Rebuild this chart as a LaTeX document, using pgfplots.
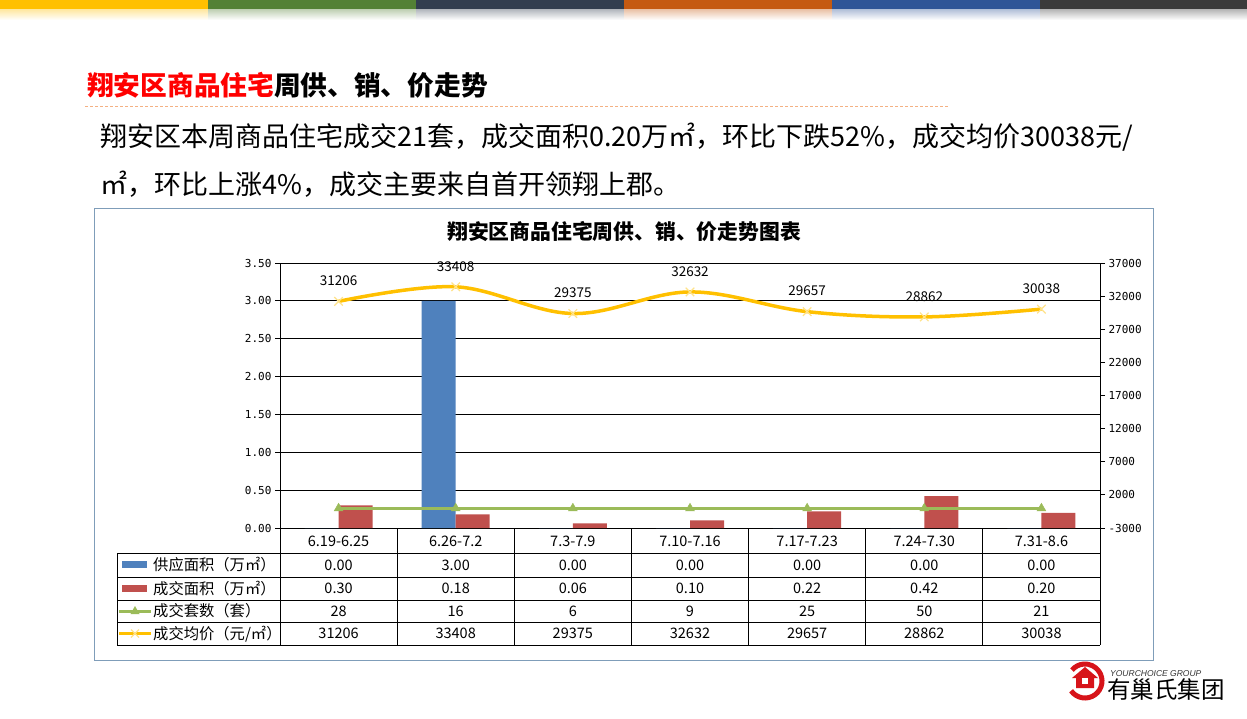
\documentclass[border=0pt]{standalone}
\usepackage{pgfplots}
\pgfplotsset{compat=1.18}
\usepackage{fontspec}
\setmainfont{Noto Sans CJK SC}
\newfontfamily\tickfont{DejaVu Sans Mono}
\newfontfamily\latinit{Liberation Sans}

\definecolor{bandA}{HTML}{FFC000}
\definecolor{bandB}{HTML}{538135}
\definecolor{bandC}{HTML}{323E4F}
\definecolor{bandD}{HTML}{C55A11}
\definecolor{bandE}{HTML}{2F5597}
\definecolor{bandF}{HTML}{3B3B3B}
\definecolor{dashC}{HTML}{F4B183}
\definecolor{boxC}{HTML}{7F9DB9}
\definecolor{supplyC}{HTML}{4F81BD}
\definecolor{dealC}{HTML}{C0504D}
\definecolor{unitsC}{HTML}{9BBB59}
\definecolor{priceC}{HTML}{FFC000}
\definecolor{priceM}{HTML}{FFE38A}
\definecolor{logoC}{HTML}{D7141A}

\begin{document}
\begin{tikzpicture}
\useasboundingbox (0,0) rectangle (1247pt,718pt);
\fill[white] (0,0) rectangle (1247pt,718pt);

\begin{scope}[x=1pt,y=1pt]
% top colour strip
\foreach \c [count=\i from 0] in {bandA,bandB,bandC,bandD,bandE,bandF} {
  \fill[\c] (\i*208,708) rectangle (\i*208+208,718);
  \shade[top color=\c!35, bottom color=white] (\i*208,698) rectangle (\i*208+208,708);
}

% heading
\node[anchor=base west, inner sep=0] at (87,622)
  {\fontsize{26.7}{30}\selectfont\bfseries\textcolor{red}{翔安区商品住宅}周供、销、价走势};
\draw[dashC, line width=0.8pt, dash pattern=on 3pt off 2pt] (85,612) -- (948,612);

% paragraph
\node[anchor=base west, inner sep=0] at (100,571)
  {\fontsize{27}{30}\selectfont 翔安区本周商品住宅成交21套，成交面积0.20万㎡，环比下跌52\%，成交均价30038元/};
\node[anchor=base west, inner sep=0] at (100,523)
  {\fontsize{27}{30}\selectfont ㎡，环比上涨4\%，成交主要来自首开领翔上郡。};

% chart frame and title
\draw[boxC, line width=1pt] (94,509) rectangle (1153,58);
\node[anchor=base, inner sep=0] at (624,478)
  {\fontsize{20.8}{24}\selectfont\bfseries 翔安区商品住宅周供、销、价走势图表};
\end{scope}

% left axis: areas
\begin{axis}[
  at={(280pt,190pt)}, anchor=south west,
  scale only axis, width=820pt, height=265pt,
  xmin=-0.5, xmax=6.5, ymin=0, ymax=3.5,
  xtick=\empty,
  ytick={0,0.5,1,1.5,2,2.5,3,3.5},
  axis x line*=bottom, axis y line*=left,
  axis line style={-, black, line width=0.8pt},
  ymajorgrids, grid style={black, line width=0.8pt},
  tick align=outside, major tick length=5pt,
  tick style={black, line width=0.8pt},
  /pgf/number format/assume math mode=true,
  yticklabel style={font=\tickfont\fontsize{11}{12}\selectfont,
    /pgf/number format/fixed, /pgf/number format/fixed zerofill,
    /pgf/number format/precision=2},
  clip=false,
]
% 供应面积（万㎡）
\addplot[ybar, bar width=34pt, bar shift=-17pt, fill=supplyC, draw=none]
  coordinates {(0,0) (1,3.00) (2,0) (3,0) (4,0) (5,0) (6,0)};
% 成交面积（万㎡）
\addplot[ybar, bar width=34pt, bar shift=17pt, fill=dealC, draw=none]
  coordinates {(0,0.30) (1,0.18) (2,0.06) (3,0.10) (4,0.22) (5,0.42) (6,0.20)};
% 成交套数（套） as drawn on the chart
\addplot[unitsC, line width=3.5pt, mark=triangle*, mark size=5pt,
  mark options={fill=unitsC, draw=unitsC, line width=0.5pt}]
  coordinates {(0,0.26) (1,0.26) (2,0.26) (3,0.26) (4,0.26) (5,0.26) (6,0.26)};
\end{axis}

% right axis: price
\begin{axis}[
  at={(280pt,190pt)}, anchor=south west,
  scale only axis, width=820pt, height=265pt,
  xmin=-0.5, xmax=6.5, ymin=-3000, ymax=37000,
  xtick=\empty,
  ytick={-3000,2000,7000,12000,17000,22000,27000,32000,37000},
  scaled y ticks=false,
  axis x line=none, axis y line*=right,
  axis line style={-, black, line width=0.8pt},
  tick align=outside, major tick length=5pt,
  tick style={black, line width=0.8pt},
  /pgf/number format/assume math mode=true,
  yticklabel style={font=\tickfont\fontsize{11}{12}\selectfont,
    /pgf/number format/fixed, /pgf/number format/1000 sep={}},
  clip=false,
]
% 成交均价（元/㎡）
\addplot[priceC, line width=3.5pt, smooth, tension=0.6,
  mark=x, mark size=6pt, mark options={draw=priceM, line width=1.2pt},
  point meta=explicit symbolic, nodes near coords,
  every node near coord/.style={black, anchor=south, inner sep=0pt, yshift=15pt,
    font=\fontsize{13.5}{15}\selectfont}]
  coordinates {(0,31206)[31206] (1,33408)[33408] (2,29375)[29375] (3,32632)[32632]
               (4,29657)[29657] (5,28862)[28862] (6,30038)[30038]};
\end{axis}

\begin{scope}[x=1pt,y=1pt]
% data table grid
\def\cw{117.142857}
\draw[black, line width=0.8pt] (117,165) -- (1100,165);
\foreach \yy in {141,118,96,73} \draw[black, line width=0.8pt] (117,\yy) -- (1100,\yy);
\draw[black, line width=0.8pt] (117,165) -- (117,73);
\foreach \k in {0,...,7} \draw[black, line width=0.8pt] (280+\k*\cw,190) -- (280+\k*\cw,73);

% categories
\foreach \t [count=\k from 0] in {6.19-6.25,6.26-7.2,7.3-7.9,7.10-7.16,7.17-7.23,7.24-7.30,7.31-8.6}
  \node[anchor=base, inner sep=0, font=\fontsize{14.5}{16}\selectfont] at (280+\k*\cw+0.5*\cw,172) {\t};

% table values
\foreach \t [count=\k from 0] in {0.00,3.00,0.00,0.00,0.00,0.00,0.00}
  \node[anchor=base, inner sep=0, font=\fontsize{14.5}{16}\selectfont] at (280+\k*\cw+0.5*\cw,148) {\t};
\foreach \t [count=\k from 0] in {0.30,0.18,0.06,0.10,0.22,0.42,0.20}
  \node[anchor=base, inner sep=0, font=\fontsize{14.5}{16}\selectfont] at (280+\k*\cw+0.5*\cw,124.5) {\t};
\foreach \t [count=\k from 0] in {28,16,6,9,25,50,21}
  \node[anchor=base, inner sep=0, font=\fontsize{14.5}{16}\selectfont] at (280+\k*\cw+0.5*\cw,102) {\t};
\foreach \t [count=\k from 0] in {31206,33408,29375,32632,29657,28862,30038}
  \node[anchor=base, inner sep=0, font=\fontsize{14.5}{16}\selectfont] at (280+\k*\cw+0.5*\cw,79.5) {\t};

% legend keys and row labels
\fill[supplyC] (122,150) rectangle (147,157);
\fill[dealC] (122,126.5) rectangle (147,133.5);
\draw[unitsC, line width=3pt] (119,107) -- (151,107);
\fill[unitsC] (135,112) -- (130.5,104) -- (139.5,104) -- cycle;
\draw[priceC, line width=3pt] (119,84.5) -- (151,84.5);
\draw[priceM, line width=1.2pt] (131,80.5) -- (139,88.5) (131,88.5) -- (139,80.5);
\node[anchor=base west, inner sep=0, font=\fontsize{15.3}{17}\selectfont] at (153,147.5) {供应面积（万㎡）};
\node[anchor=base west, inner sep=0, font=\fontsize{15.3}{17}\selectfont] at (153,124) {成交面积（万㎡）};
\node[anchor=base west, inner sep=0, font=\fontsize{15.3}{17}\selectfont] at (153,101.5) {成交套数（套）};
\node[anchor=base west, inner sep=0, font=\fontsize{15.3}{17}\selectfont] at (153,79) {成交均价（元/㎡）};

% logo
\draw[logoC, line width=5pt] ([shift={(215:17)}]1085,37) arc (215:500:17);
\fill[logoC] (1076,30) -- (1076,40) -- (1072,40) -- (1085,51) -- (1098,40) -- (1094,40) -- (1094,30) -- cycle;
\fill[white] (1082,34) rectangle (1088,40);
\node[anchor=base west, inner sep=0, font=\latinit\itshape\fontsize{8.5}{9}\selectfont, text=black!80] at (1110,42) {YOURCHOICE GROUP};
\node[anchor=base west, inner sep=0, font=\fontsize{23.5}{25}\selectfont] at (1107,20) {有巢氏集团};
\end{scope}
\end{tikzpicture}
\end{document}
